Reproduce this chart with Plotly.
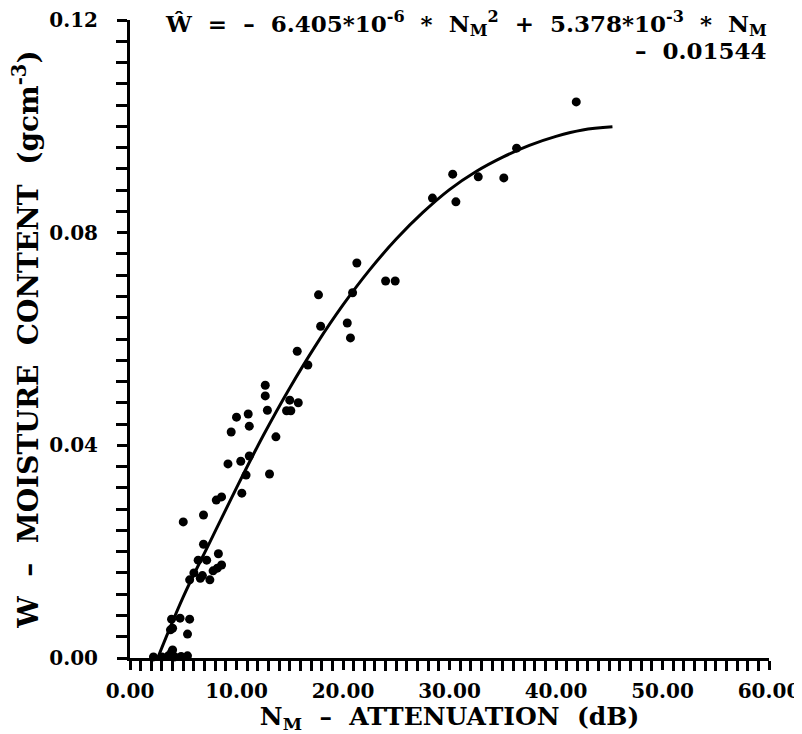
import plotly.graph_objects as go

# Observed data points: attenuation N_M (dB) vs moisture content W (g cm^-3)
n_obs = [41.9, 36.3, 35.1, 32.7, 30.3, 30.6, 28.4, 24.0, 24.9,
         21.3, 17.7, 20.9, 17.9, 20.4, 20.7, 15.7, 16.7, 12.7, 12.7,
         15.8, 15.0, 12.9, 14.7, 15.1, 11.1, 10.0,
         11.2, 9.5, 13.7, 11.2, 10.4, 9.2, 13.1, 10.9, 10.5, 8.6, 8.1,
         6.9, 5.0, 6.9, 6.4, 7.2, 8.3, 8.6, 8.2, 7.8,
         5.6, 6.6, 7.5, 6.0, 6.8,
         3.9, 4.7, 5.6, 3.8, 5.4, 4.0, 3.9, 4.0,
         2.2, 3.0, 3.6, 4.2, 4.8, 5.4]
w_obs = [0.1046, 0.0959, 0.0903, 0.0905, 0.0910, 0.0858, 0.0865, 0.0709, 0.0709,
         0.0743, 0.0683, 0.0687, 0.0624, 0.0630, 0.0602, 0.0577, 0.0551, 0.0513, 0.0493,
         0.0480, 0.0485, 0.0466, 0.0465, 0.0465, 0.0459, 0.0453,
         0.0436, 0.0425, 0.0416, 0.0380, 0.0370, 0.0365, 0.0346, 0.0344, 0.0310, 0.0303, 0.0297,
         0.0269, 0.0256, 0.0214, 0.0184, 0.0184, 0.0196, 0.0175, 0.0169, 0.0164,
         0.0147, 0.0150, 0.0147, 0.0160, 0.0155,
         0.0073, 0.0075, 0.0073, 0.0053, 0.0045, 0.0015, 0.0011, 0.0056,
         0.0002, 0.0002, 0.0004, 0.0002, 0.0003, 0.0004]

# Fitted curve
curve_n = [2.6, 5.0, 7.5, 10.0, 12.5, 15.0, 17.5, 20.0, 22.5, 25.0, 27.5,
           30.0, 32.5, 35.0, 37.5, 40.0, 42.5, 45.3]
curve_w = [0.0, 0.0115, 0.0218, 0.0320, 0.0418, 0.0508, 0.0590, 0.0664, 0.0730,
           0.0788, 0.0838, 0.0881, 0.0915, 0.0942, 0.0964, 0.0981, 0.0993, 0.0999]

X_RANGE = [0, 60]
Y_RANGE = [0, 0.12]

FONT = "DejaVu Serif"

fig = go.Figure()
fig.add_trace(go.Scatter(x=curve_n, y=curve_w, mode="lines",
                         line=dict(color="black", width=3, shape="spline"),
                         hoverinfo="skip", showlegend=False))
fig.add_trace(go.Scatter(x=n_obs, y=w_obs, mode="markers",
                         marker=dict(color="black", size=9),
                         showlegend=False, cliponaxis=False))

tickfont = dict(family=FONT, size=20, color="black", weight="bold")

# page body has an 8px margin, so the figure is shifted by 8px
fig.update_layout(
    width=794, height=726,
    margin=dict(l=122, r=33, t=12, b=76, autoexpand=False),
    paper_bgcolor="white", plot_bgcolor="white",
    font=dict(family=FONT, color="black", size=16),
    xaxis=dict(range=X_RANGE, tickmode="linear", tick0=0, dtick=10, tickformat=".2f",
               automargin=False,
               showgrid=False, zeroline=False, showline=True,
               linecolor="black", linewidth=3,
               ticks="outside", ticklen=9, tickwidth=2.5, tickcolor="black",
               minor=dict(tickmode="linear", tick0=0, dtick=1, ticks="outside",
                          ticklen=10, tickwidth=2.5, tickcolor="#000001", showgrid=False),
               ticklabelstandoff=4,
               tickfont=tickfont,
               title=dict(text="N<sub>M</sub>  –  ATTENUATION  (dB)",
                          font=dict(family=FONT, size=25, weight="bold"), standoff=2)),
    yaxis=dict(range=Y_RANGE, tickmode="linear", tick0=0, dtick=0.04, tickformat=".2f",
               automargin=False,
               showgrid=False, zeroline=False, showline=True,
               linecolor="black", linewidth=3,
               ticks="outside", ticklen=10, tickwidth=2.5, tickcolor="black",
               minor=dict(tickmode="linear", tick0=0, dtick=0.004, ticks="outside",
                          ticklen=11, tickwidth=2.5, tickcolor="#000001", showgrid=False),
               ticklabelstandoff=15,
               tickfont=tickfont,
               title=dict(text="W  –  MOISTURE  CONTENT  (gcm<sup>-3</sup>)",
                          font=dict(family=FONT, size=28, weight="bold"), standoff=6)),
)

fig.add_annotation(
    xref="paper", yref="paper", x=1.0, y=0.994, xanchor="right", yanchor="middle",
    showarrow=False, align="right",
    text="Ŵ  =  –  6.405*10<sup>-6</sup>  *  N<sub>M</sub><sup>2</sup>  +  5.378*10<sup>-3</sup>  *  N<sub>M</sub>",
    font=dict(family=FONT, size=23, color="black", weight="bold"))
fig.add_annotation(
    xref="paper", yref="paper", x=1.0, y=0.952, xanchor="right", yanchor="middle",
    showarrow=False, align="right",
    text="–  0.01544",
    font=dict(family=FONT, size=23, color="black", weight="bold"))

fig.write_html("out.html")
